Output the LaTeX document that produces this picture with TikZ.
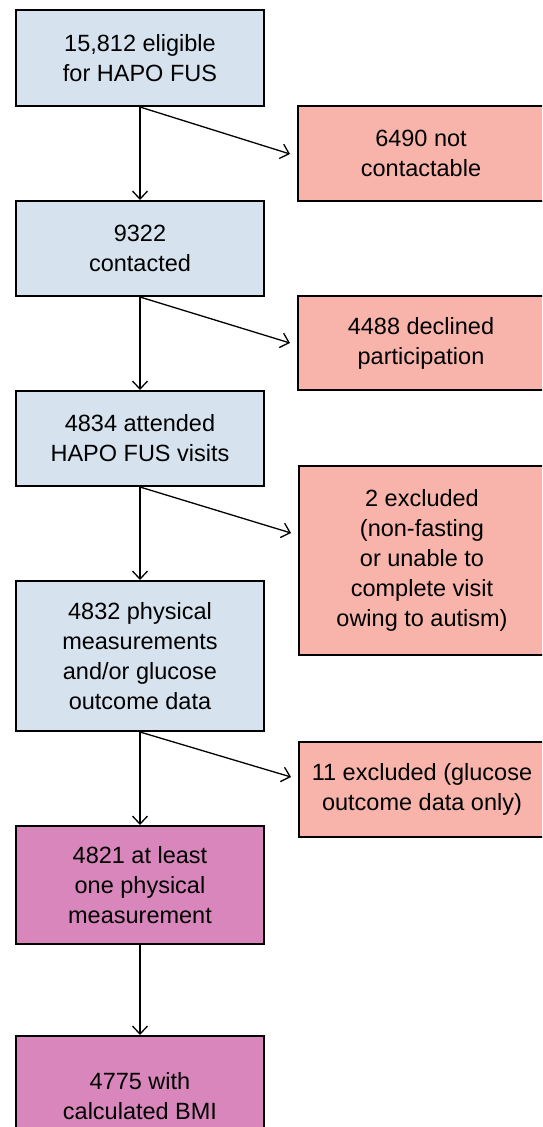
\documentclass[tikz,border=0pt]{standalone}
\usepackage{fontspec}
\setmainfont{Liberation Sans}
\usetikzlibrary{arrows.meta}
\definecolor{boxblue}{RGB}{214,226,238}
\definecolor{boxsalmon}{RGB}{248,180,170}
\definecolor{boxmagenta}{RGB}{216,134,188}
\tikzset{
  flowbox/.style={draw=black, line width=2pt, align=center, inner sep=0pt,
    font=\fontsize{23.5}{30}\selectfont, text=black},
  leftbox/.style={flowbox, fill=boxblue, minimum width=248pt},
  magbox/.style={flowbox, fill=boxmagenta, minimum width=248pt},
  rightbox/.style={flowbox, fill=boxsalmon, minimum width=247pt},
  flowarrow/.style={line width=1.3pt, -{Straight Barb[length=8pt,width=15pt,line width=1.3pt]}},
}
\begin{document}
\begin{tikzpicture}[x=1pt,y=-1pt]
\useasboundingbox (0,0) rectangle (542,1127);
\clip (0,0) rectangle (542,1127);
\fill[white] (0,0) rectangle (542,1127);
% left column
\node[leftbox, minimum height=96pt] (b1) at (140,58) {15,812 eligible\\for HAPO FUS};
\node[leftbox, minimum height=95pt] (b2) at (140,248.5) {9322\\contacted};
\node[leftbox, minimum height=95pt] (b3) at (140,438.5) {4834 attended\\HAPO FUS visits};
\node[leftbox, minimum height=150pt] (b4) at (140,656) {4832 physical\\measurements\\and/or glucose\\outcome data};
\node[magbox, minimum height=118pt] (b5) at (140,885) {4821 at least\\one physical\\measurement};
\node[magbox, minimum height=120pt] (b6) at (140,1096) {4775 with\\calculated BMI};
% right column
\node[rightbox, minimum height=95pt] (r1) at (421,153.5) {6490 not\\contactable};
\node[rightbox, minimum height=94pt] (r2) at (421,343) {4488 declined\\participation};
\node[rightbox, minimum height=189pt] (r3) at (422,560.5) {2 excluded\\(non-fasting\\or unable to\\complete visit\\owing to autism)};
\node[rightbox, minimum height=95pt] (r4) at (422,789.5) {11 excluded (glucose\\outcome data only)};
% arrow tips of the side branches
\coordinate (t1) at (290,154);
\coordinate (t2) at (290,343);
\coordinate (t3) at (291,533);
\coordinate (t4) at (291,777);
% vertical arrows
\draw[flowarrow] (b1.south) -- (b2.north);
\draw[flowarrow] (b2.south) -- (b3.north);
\draw[flowarrow] (b3.south) -- (b4.north);
\draw[flowarrow] (b4.south) -- (b5.north);
\draw[flowarrow] (b5.south) -- (b6.north);
% side arrows
\draw[flowarrow] (b1.south) -- (t1);
\draw[flowarrow] (b2.south) -- (t2);
\draw[flowarrow] (b3.south) -- (t3);
\draw[flowarrow] (b4.south) -- (t4);
\end{tikzpicture}
\end{document}
